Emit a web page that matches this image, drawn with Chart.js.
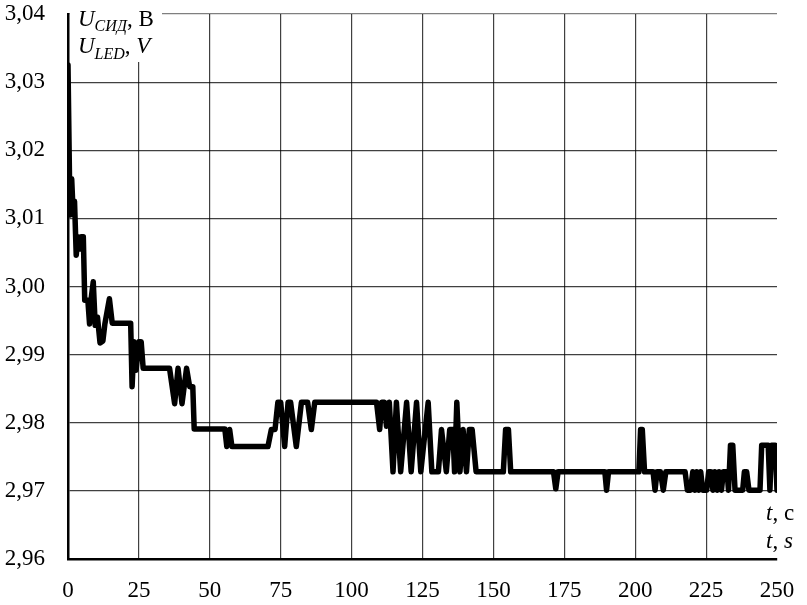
<!DOCTYPE html>
<html>
<head>
<meta charset="utf-8">
<script src="https://cdn.jsdelivr.net/npm/chart.js@4.4.1/dist/chart.umd.min.js"></script>
<style>
html,body{margin:0;padding:0;background:#fff;}
#wrap{width:807px;height:605px;position:relative;}
</style>
</head>
<body>
<div id="wrap"><canvas id="c" width="807" height="605"></canvas></div>
<script>
// time, s
const times = [
  0, 0.7, 1.3, 1.8, 2.3, 2.9, 3.5, 4.0, 4.6, 5.4,
  5.9, 7.0, 7.6, 8.1, 8.9, 9.6, 10.4, 11.3, 12.3, 13.0,
  14.6, 15.6, 22.1, 22.6, 23.3, 24.0, 25.0, 25.8, 26.5, 35.8,
  37.6, 38.8, 40.2, 41.8, 42.9, 44.0, 44.5, 55.3, 56.0, 57.0,
  57.8, 70.5, 71.7, 73.0, 74.0, 75.0, 76.4, 77.6, 78.5, 80.5,
  82.3, 84.5, 85.8, 87.0, 108.8, 109.9, 110.6, 111.6, 112.3, 113.3,
  114.6, 115.8, 117.3, 119.4, 121.0, 122.9, 124.4, 127.0, 128.3, 130.6,
  131.7, 133.4, 134.6, 135.7, 136.3, 137.1, 138.2, 139.3, 140.5, 141.5,
  142.5, 143.9, 153.5, 154.3, 155.3, 156.1, 171.2, 172.0, 172.8, 189.3,
  189.9, 190.6, 201.3, 201.9, 202.5, 203.3, 206.3, 207.0, 207.7, 208.9,
  209.9, 210.8, 217.6, 218.4, 219.5, 220.3, 221.0, 221.7, 222.4, 223.1,
  223.8, 225.2, 225.9, 226.7, 227.4, 228.1, 228.9, 229.6, 230.4, 231.1,
  232.4, 232.9, 233.6, 234.4, 235.2, 237.9, 238.5, 239.3, 240.1, 244.0,
  244.6, 246.9, 247.5, 248.1, 249.4, 250.0
];
// LED voltage, V
const volts = [
  3.0325, 3.0105, 3.0158, 3.0110, 3.0125, 3.0046, 3.0073, 3.0055, 3.0073, 3.0073,
  2.9980, 2.9980, 2.9945, 2.9980, 3.0007, 2.9943, 2.9955, 2.9917, 2.9920, 2.9945,
  2.9982, 2.9946, 2.9946, 2.9853, 2.9919, 2.9877, 2.9919, 2.9919, 2.9880, 2.9880,
  2.9828, 2.9880, 2.9828, 2.9880, 2.9853, 2.9853, 2.9791, 2.9791, 2.9765, 2.9790,
  2.9765, 2.9765, 2.9790, 2.9790, 2.9830, 2.9830, 2.9765, 2.9830, 2.9830, 2.9765,
  2.9830, 2.9830, 2.9790, 2.9830, 2.9830, 2.9790, 2.9830, 2.9830, 2.9795, 2.9830,
  2.9728, 2.9830, 2.9728, 2.9830, 2.9728, 2.9830, 2.9728, 2.9830, 2.9728, 2.9728,
  2.9790, 2.9728, 2.9790, 2.9790, 2.9728, 2.9830, 2.9728, 2.9790, 2.9728, 2.9790,
  2.9790, 2.9728, 2.9728, 2.9790, 2.9790, 2.9728, 2.9728, 2.9703, 2.9728, 2.9728,
  2.9701, 2.9728, 2.9728, 2.9790, 2.9790, 2.9728, 2.9728, 2.9701, 2.9728, 2.9728,
  2.9701, 2.9728, 2.9728, 2.9701, 2.9701, 2.9728, 2.9701, 2.9728, 2.9701, 2.9728,
  2.9701, 2.9701, 2.9728, 2.9728, 2.9701, 2.9728, 2.9701, 2.9728, 2.9701, 2.9728,
  2.9728, 2.9701, 2.9767, 2.9767, 2.9701, 2.9701, 2.9728, 2.9728, 2.9701, 2.9701,
  2.9767, 2.9767, 2.9701, 2.9767, 2.9767, 2.9701
];
const xTicks = [0, 25, 50, 75, 100, 125, 150, 175, 200, 225, 250];
const yTicks = [2.96, 2.97, 2.98, 2.99, 3.00, 3.01, 3.02, 3.03, 3.04];

const points = times.map((t, i) => ({ x: t, y: volts[i] }));
const SERIF = '"Liberation Serif", "Times New Roman", serif';

function drawRuns(ctx, runs, x, y) {
  runs.forEach(r => {
    ctx.font = r.f;
    ctx.fillText(r.s, x, y + (r.dy || 0));
    x += ctx.measureText(r.s).width;
  });
}

const labelPlugin = {
  id: 'axisLabels',
  beforeDatasetsDraw(chart) {
    const ctx = chart.ctx;
    ctx.save();
    ctx.fillStyle = '#fff';
    ctx.fillRect(70, 0, 92, 62);
    ctx.restore();
  },
  afterDraw(chart) {
    const ctx = chart.ctx;
    ctx.save();
    ctx.fillStyle = '#000';
    ctx.textBaseline = 'alphabetic';
    ctx.textAlign = 'left';
    const big = '23px ' + SERIF, bigI = 'italic 23px ' + SERIF, subI = 'italic 16px ' + SERIF;
    drawRuns(ctx, [
      { s: 'U', f: bigI },
      { s: 'СИД', f: subI, dy: 5 },
      { s: ', В', f: big }
    ], 78, 26);
    drawRuns(ctx, [
      { s: 'U', f: bigI },
      { s: 'LED', f: subI, dy: 6 },
      { s: ', ', f: big },
      { s: 'V', f: bigI }
    ], 78, 53);
    drawRuns(ctx, [
      { s: 't', f: bigI },
      { s: ', с', f: big }
    ], 766, 520);
    drawRuns(ctx, [
      { s: 't', f: bigI },
      { s: ', ', f: big },
      { s: 's', f: bigI }
    ], 766, 548);
    ctx.restore();
  }
};

new Chart(document.getElementById('c'), {
  type: 'line',
  data: {
    datasets: [{
      data: points,
      borderColor: '#000',
      borderWidth: 5.5,
      pointRadius: 0,
      tension: 0,
      fill: false,
      borderJoinStyle: 'round',
      borderCapStyle: 'round'
    }]
  },
  options: {
    responsive: false,
    animation: false,
    events: [],
    layout: { padding: { top: 14, right: 30, left: 0, bottom: 0 } },
    plugins: { legend: { display: false }, tooltip: { enabled: false } },
    scales: {
      x: {
        type: 'linear',
        min: 0, max: 250,
        afterBuildTicks: s => { s.ticks = xTicks.map(v => ({ value: v })); },
        afterFit: s => { s.height = 46; s.paddingLeft = 0; s.paddingRight = 0; },
        grid: {
          drawTicks: false,
          color: c => (c.tick && c.tick.value === 250) ? 'rgba(0,0,0,0)' : 'rgba(0,0,0,0.75)',
          lineWidth: 1.2
        },
        border: { color: '#000', width: 2.5 },
        ticks: {
          color: '#000', padding: 18, maxRotation: 0, autoSkip: false,
          font: { family: SERIF, size: 23 },
          callback: v => String(v)
        }
      },
      y: {
        type: 'linear',
        min: 2.96, max: 3.04,
        afterBuildTicks: s => { s.ticks = yTicks.map(v => ({ value: v })); },
        afterFit: s => { s.width = 68; s.paddingTop = 0; s.paddingBottom = 0; },
        grid: {
          drawTicks: false,
          color: c => (c.tick && Math.abs(c.tick.value - 3.04) < 1e-6) ? 'rgba(0,0,0,0.5)' : 'rgba(0,0,0,0.75)',
          lineWidth: 1.2
        },
        border: { color: '#000', width: 2.5 },
        ticks: {
          color: '#000', padding: 23, autoSkip: false,
          font: { family: SERIF, size: 23 },
          callback: v => Number(v).toFixed(2).replace('.', ',')
        }
      }
    }
  },
  plugins: [labelPlugin]
});
</script>
</body>
</html>
